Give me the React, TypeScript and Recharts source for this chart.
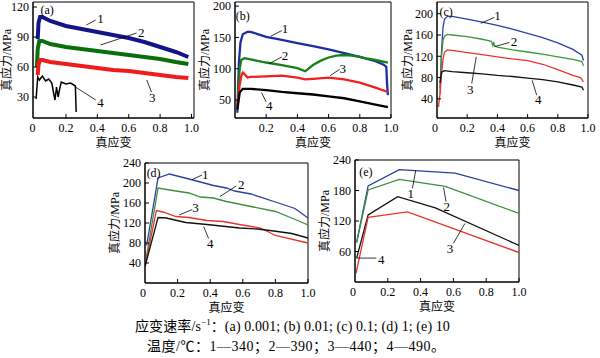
import React from 'react';
import { LineChart, Line, XAxis, YAxis, Label, ReferenceArea, ReferenceLine, ReferenceDot } from 'recharts';

type Pt = [number, number];
type Tag = { n: string; at: Pt; from: Pt; to: Pt };

// true strain / true stress (MPa)

// (a) 0.001 s^-1
const a1: Pt[] = [[0.02, 88], [0.025, 104], [0.035, 110], [0.05, 110], [0.1, 106], [0.2, 101], [0.3, 98], [0.4, 95], [0.5, 92], [0.6, 89], [0.7, 85], [0.8, 80], [0.9, 75], [0.98, 70]];
const a2: Pt[] = [[0.015, 60], [0.02, 78], [0.03, 86], [0.05, 86], [0.1, 83], [0.2, 80], [0.3, 78], [0.4, 76], [0.5, 74], [0.6, 72], [0.7, 70], [0.8, 68], [0.9, 65], [0.98, 63]];
const a3: Pt[] = [[0.02, 52], [0.025, 62], [0.035, 67], [0.05, 67], [0.1, 65], [0.2, 63], [0.3, 61], [0.4, 59], [0.5, 57], [0.6, 56], [0.7, 54], [0.8, 52], [0.9, 50], [0.98, 49]];
const a4: Pt[] = [[0.01, 28], [0.02, 50], [0.03, 47], [0.05, 51], [0.07, 46], [0.09, 48], [0.11, 44], [0.12, 35], [0.13, 27], [0.14, 40], [0.15, 30], [0.16, 38], [0.17, 45], [0.2, 43], [0.23, 44], [0.26, 41], [0.265, 15]];

// (b) 0.01 s^-1
const b1: Pt[] = [[0.015, 30], [0.025, 110], [0.035, 142], [0.05, 155], [0.08, 159], [0.1, 159], [0.15, 155], [0.2, 151], [0.3, 146], [0.4, 141], [0.5, 136], [0.6, 131], [0.7, 125], [0.8, 119], [0.9, 112], [0.95, 107], [0.97, 103], [0.975, 75], [0.98, 58]];
const b2: Pt[] = [[0.02, 60], [0.03, 100], [0.04, 114], [0.06, 117], [0.1, 115], [0.2, 110], [0.3, 106], [0.4, 101], [0.45, 96], [0.5, 106], [0.55, 113], [0.6, 118], [0.65, 121], [0.7, 122], [0.75, 121], [0.8, 119], [0.85, 116], [0.9, 114], [0.98, 110]];
const b3: Pt[] = [[0.015, 40], [0.03, 75], [0.04, 88], [0.05, 94], [0.06, 92], [0.08, 86], [0.1, 87], [0.2, 88], [0.3, 89], [0.4, 86], [0.45, 83], [0.5, 84], [0.6, 86], [0.7, 83], [0.8, 78], [0.9, 70], [0.98, 63]];
const b4: Pt[] = [[0.015, 35], [0.03, 62], [0.05, 68], [0.1, 68], [0.2, 66], [0.3, 63], [0.4, 61], [0.5, 59], [0.6, 56], [0.7, 53], [0.8, 48], [0.9, 43], [0.98, 39]];

// (c) 0.1 s^-1
const c1: Pt[] = [[0.02, 60], [0.03, 130], [0.04, 175], [0.05, 190], [0.07, 195], [0.1, 195], [0.2, 190], [0.3, 184], [0.4, 178], [0.5, 171], [0.6, 163], [0.7, 155], [0.8, 145], [0.9, 133], [0.96, 122], [0.97, 112]];
const c2: Pt[] = [[0.02, 50], [0.03, 120], [0.04, 150], [0.05, 158], [0.07, 161], [0.1, 160], [0.2, 157], [0.3, 152], [0.36, 148], [0.37, 140], [0.375, 147], [0.38, 140], [0.4, 137], [0.5, 132], [0.6, 128], [0.7, 124], [0.8, 119], [0.9, 114], [0.96, 110], [0.97, 102]];
const c3: Pt[] = [[0.01, 25], [0.02, 50], [0.03, 85], [0.04, 115], [0.05, 128], [0.07, 132], [0.1, 131], [0.2, 127], [0.3, 123], [0.4, 119], [0.5, 115], [0.6, 112], [0.7, 105], [0.8, 95], [0.9, 84], [0.95, 80], [0.97, 72]];
const c4: Pt[] = [[0.02, 70], [0.03, 90], [0.05, 93], [0.1, 91], [0.2, 89], [0.3, 87], [0.4, 84], [0.5, 82], [0.6, 79], [0.7, 76], [0.8, 72], [0.9, 66], [0.96, 62], [0.97, 56]];

// (d) 1 s^-1
const d1: Pt[] = [[0.01, 75], [0.08, 210], [0.15, 218], [0.27, 208], [0.42, 195], [0.5, 190], [0.55, 184], [0.65, 178], [0.8, 162], [0.92, 149], [1.0, 130]];
const d2: Pt[] = [[0.0, 35], [0.08, 190], [0.17, 185], [0.27, 180], [0.34, 172], [0.42, 170], [0.5, 163], [0.65, 153], [0.8, 143], [0.9, 130], [1.0, 116]];
const d3: Pt[] = [[0.0, 33], [0.07, 145], [0.11, 142], [0.19, 133], [0.27, 131], [0.38, 125], [0.48, 123], [0.58, 117], [0.71, 110], [0.8, 95], [1.0, 80]];
const d4: Pt[] = [[0.0, 33], [0.08, 131], [0.13, 130], [0.25, 121], [0.38, 117], [0.58, 110], [0.69, 108], [0.79, 104], [0.9, 99], [1.0, 90]];

// (e) 10 s^-1
const e1: Pt[] = [[0.01, 78], [0.08, 189], [0.27, 221], [0.61, 214], [1.0, 180]];
const e2: Pt[] = [[0.01, 78], [0.08, 181], [0.27, 202], [0.55, 188], [1.0, 135]];
const e3: Pt[] = [[0.01, 47], [0.08, 132], [0.26, 168], [0.49, 146], [1.0, 72]];
const e4: Pt[] = [[0.006, 17], [0.08, 127], [0.32, 138], [1.0, 58]];

// curve numbers with their leader lines
const aTags: Tag[] = [
  { n: '1', at: [0.42, 109], from: [0.33, 102], to: [0.39, 107] },
  { n: '2', at: [0.68, 95], from: [0.42, 82], to: [0.65, 94] },
  { n: '3', at: [0.75, 30], from: [0.715, 47], to: [0.745, 35] },
  { n: '4', at: [0.42, 25], from: [0.26, 40], to: [0.39, 27] },
];
const bTags: Tag[] = [
  { n: '1', at: [0.32, 164], from: [0.23, 152], to: [0.3, 161] },
  { n: '2', at: [0.32, 121], from: [0.22, 108], to: [0.3, 119] },
  { n: '3', at: [0.69, 101], from: [0.61, 89], to: [0.67, 99] },
  { n: '4', at: [0.22, 41], from: [0.17, 62], to: [0.2, 47] },
];
const cTags: Tag[] = [
  { n: '1', at: [0.4, 196], from: [0.29, 182], to: [0.38, 193] },
  { n: '2', at: [0.51, 148], from: [0.38, 138], to: [0.48, 146] },
  { n: '3', at: [0.22, 58], from: [0.26, 119], to: [0.23, 69] },
  { n: '4', at: [0.67, 39], from: [0.63, 75], to: [0.66, 47] },
];
const dTags: Tag[] = [
  { n: '1', at: [0.37, 218], from: [0.29, 207], to: [0.35, 216] },
  { n: '2', at: [0.59, 197], from: [0.46, 173], to: [0.56, 194] },
  { n: '3', at: [0.31, 151], from: [0.21, 136], to: [0.29, 147] },
  { n: '4', at: [0.4, 79], from: [0.36, 113], to: [0.39, 89] },
];
const eTags: Tag[] = [
  { n: '1', at: [0.34, 174], from: [0.37, 219], to: [0.35, 184] },
  { n: '2', at: [0.56, 149], from: [0.54, 186], to: [0.555, 158] },
  { n: '3', at: [0.58, 66], from: [0.67, 115], to: [0.6, 76] },
  { n: '4', at: [0.16, 45], from: [0.01, 47], to: [0.13, 47] },
];

const xTicks = [0.2, 0.4, 0.6, 0.8, 1.0];

const serif = '"Liberation Serif", "Times New Roman", "Noto Sans CJK SC", serif';
const toXY = (pts: Pt[]) => pts.map(([x, y]) => ({ x, y }));

type Series = { data: Pt[]; color: string; width: number };
type PanelCfg = {
  title: string;
  titleAt: Pt;
  left: number; top: number; w: number; h: number;
  xDomain: [number, number];
  yDomain: [number, number];
  originZero: boolean;
  yTicks: number[];
  yLabelOffset: number;
  series: Series[];
  tags: Tag[];
};

const panels: PanelCfg[] = [
  {
    title: '(a)', titleAt: [0.08, 117], left: 33, top: 2, w: 161, h: 116,
    xDomain: [-0.01, 1.016], yDomain: [9, 125], originZero: true, yTicks: [30, 60, 90, 120], yLabelOffset: 34,
    series: [
      { data: a1, color: '#14148a', width: 4 },
      { data: a2, color: '#0a6e0a', width: 4 },
      { data: a3, color: '#f01c1c', width: 4 },
      { data: a4, color: '#000000', width: 1.5 },
    ],
    tags: aTags,
  },
  {
    title: '(b)', titleAt: [0.05, 184], left: 235, top: 2, w: 156, h: 116,
    xDomain: [0, 1], yDomain: [21.5, 206.5], originZero: false, yTicks: [50, 100, 150, 200], yLabelOffset: 30,
    series: [
      { data: b1, color: '#1c2ea0', width: 2.3 },
      { data: b2, color: '#14801a', width: 2.3 },
      { data: b3, color: '#ee2020', width: 2.3 },
      { data: b4, color: '#000000', width: 2.3 },
    ],
    tags: bTags,
  },
  {
    title: '(c)', titleAt: [0.06, 204], left: 437, top: 2, w: 151, h: 116,
    xDomain: [0, 1], yDomain: [4, 222], originZero: true, yTicks: [40, 80, 120, 160, 200], yLabelOffset: 31,
    series: [
      { data: c1, color: '#2c40a8', width: 1.3 },
      { data: c2, color: '#3a9a3a', width: 1.3 },
      { data: c3, color: '#ee3030', width: 1.3 },
      { data: c4, color: '#111111', width: 1.3 },
    ],
    tags: cTags,
  },
  {
    title: '(d)', titleAt: [0.053, 220], left: 145, top: 163, w: 163, h: 120,
    xDomain: [0, 1], yDomain: [0, 240], originZero: true, yTicks: [40, 80, 120, 160, 200, 240], yLabelOffset: 29.5,
    series: [
      { data: d1, color: '#2c3f9e', width: 1.3 },
      { data: d2, color: '#3d8f3d', width: 1.3 },
      { data: d3, color: '#e83232', width: 1.3 },
      { data: d4, color: '#111111', width: 1.3 },
    ],
    tags: dTags,
  },
  {
    title: '(e)', titleAt: [0.066, 217], left: 355, top: 160, w: 164, h: 122,
    xDomain: [0, 1], yDomain: [0, 240], originZero: true, yTicks: [60, 120, 180, 240], yLabelOffset: 29.5,
    series: [
      { data: e1, color: '#2c3f9e', width: 1.3 },
      { data: e2, color: '#3d8f3d', width: 1.3 },
      { data: e3, color: '#111111', width: 1.3 },
      { data: e4, color: '#e83232', width: 1.3 },
    ],
    tags: eTags,
  },
];

const YW = 60;
const XH = 40;
const M = { top: 10, right: 14, left: 0, bottom: 0 };

function XTick(props: any) {
  const { x, y, payload } = props;
  const v = payload.value as number;
  return (
    <text x={x} y={y} dy={8.5} textAnchor="middle" fill="#000" fontSize={12} fontFamily={serif}>
      {v.toFixed(1)}
    </text>
  );
}

// the "0" under the lower left corner, placed from the x axis box
function OriginZero(props: any) {
  const vb = props.viewBox || {};
  const xShift = props.xShift || 0;
  return (
    <text x={vb.x + xShift} y={vb.y + 13.5} textAnchor="middle" fill="#000" fontSize={12} fontFamily={serif}>
      0
    </text>
  );
}

function Panel({ p }: { p: PanelCfg }) {
  const tickStyle = { fill: '#000', fontSize: 12, fontFamily: serif };
  const pxPerUnit = p.w / (p.xDomain[1] - p.xDomain[0]);
  const zeroShift = (0 - p.xDomain[0]) * pxPerUnit - 2;
  return (
    <div style={{ position: 'absolute', left: p.left - YW, top: p.top - M.top }}>
      <LineChart width={YW + p.w + M.right} height={M.top + p.h + XH} margin={M}>
        <XAxis
          type="number" dataKey="x" domain={p.xDomain} ticks={xTicks} interval={0} allowDataOverflow
          tickSize={-4} tickMargin={9} height={XH} stroke="#000" tick={<XTick />}
          label={{ value: '真应变', position: 'insideBottom', offset: 11, fill: '#000', fontSize: 12, fontFamily: serif }}
        >
          {p.originZero && <Label content={(lp: any) => <OriginZero {...lp} xShift={zeroShift} />} />}
        </XAxis>
        <YAxis
          type="number" domain={p.yDomain} ticks={p.yTicks} interval={0} allowDataOverflow
          tickSize={-4} tickMargin={8} width={YW} stroke="#000" tick={tickStyle}
          label={{ value: '真应力/MPa', angle: -90, position: 'insideLeft', offset: p.yLabelOffset, textAnchor: 'middle', fill: '#000', fontSize: 12, fontFamily: serif }}
        />
        <ReferenceArea x1={p.xDomain[0]} x2={p.xDomain[1]} y1={p.yDomain[0]} y2={p.yDomain[1]} fill="none" fillOpacity={0} stroke="#000" strokeWidth={1} />
        {p.series.map((s, i) => (
          <Line key={i} data={toXY(s.data)} dataKey="y" type="linear" stroke={s.color} strokeWidth={s.width} dot={false} isAnimationActive={false} />
        ))}
        {p.tags.map((t) => (
          <ReferenceLine key={'l' + t.n} segment={[{ x: t.from[0], y: t.from[1] }, { x: t.to[0], y: t.to[1] }]} stroke="#000" strokeWidth={0.8} />
        ))}
        {p.tags.map((t) => (
          <ReferenceDot key={'t' + t.n} x={t.at[0]} y={t.at[1]} r={0} fill="none" stroke="none"
            label={{ value: t.n, position: 'center', fill: '#000', fontSize: 13, fontFamily: serif }} />
        ))}
        <ReferenceDot x={p.titleAt[0]} y={p.titleAt[1]} r={0} fill="none" stroke="none"
          label={{ value: p.title, position: 'center', fill: '#000', fontSize: 12, fontFamily: serif }} />
      </LineChart>
    </div>
  );
}

export default function App() {
  return (
    <div style={{ position: 'absolute', left: 0, top: 0, width: 600, height: 358, background: '#fff', fontFamily: serif, color: '#000', overflow: 'hidden' }}>
      {panels.map((p) => (
        <Panel key={p.title} p={p} />
      ))}
      <div style={{ position: 'absolute', left: 135, top: 318, fontSize: 14, lineHeight: '17px', whiteSpace: 'nowrap', letterSpacing: 0.1 }}>
        应变速率/s<span style={{ fontSize: 9, position: 'relative', top: -6 }}>−1</span>：(a) 0.001; (b) 0.01; (c) 0.1; (d) 1; (e) 10
      </div>
      <div style={{ position: 'absolute', left: 147, top: 338, fontSize: 14, lineHeight: '17px', whiteSpace: 'nowrap', letterSpacing: 0.5 }}>
        温度/℃：1—340；2—390；3—440；4—490。
      </div>
    </div>
  );
}
